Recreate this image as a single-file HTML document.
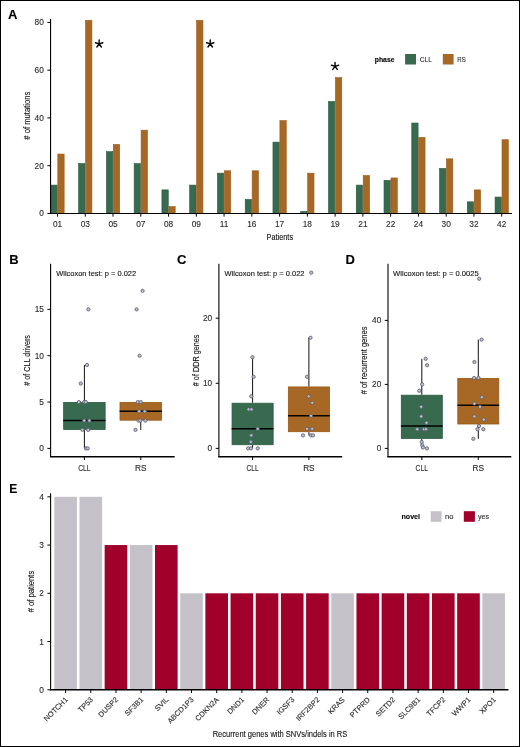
<!DOCTYPE html>
<html><head><meta charset="utf-8"><style>
html,body{margin:0;padding:0;background:#fff;}
#fig{position:relative;width:520px;height:747px;box-sizing:border-box;border:1px solid #000;overflow:hidden;background:#fff;}
svg{position:absolute;left:-1px;top:-1px;font-family:"Liberation Sans", sans-serif;will-change:transform;}
</style></head><body><div id="fig">
<svg width="520" height="747" viewBox="0 0 520 747">
<text x="8" y="18.8" font-size="13" text-anchor="start" fill="#000" stroke="#000" stroke-width="0.12" font-weight="bold">A</text>
<rect x="50.86" y="185.1" width="6.34" height="28.35" fill="#386a50" stroke="#285a40" stroke-width="0.6"/>
<rect x="57.8" y="154.06" width="6.34" height="59.39" fill="#a76826" stroke="#9c5a14" stroke-width="0.6"/>
<rect x="78.62" y="163.61" width="6.34" height="49.84" fill="#386a50" stroke="#285a40" stroke-width="0.6"/>
<rect x="85.56" y="20.36" width="6.34" height="193.09" fill="#a76826" stroke="#9c5a14" stroke-width="0.6"/>
<rect x="106.39" y="151.68" width="6.34" height="61.77" fill="#386a50" stroke="#285a40" stroke-width="0.6"/>
<rect x="113.33" y="144.51" width="6.34" height="68.94" fill="#a76826" stroke="#9c5a14" stroke-width="0.6"/>
<rect x="134.15" y="163.61" width="6.34" height="49.84" fill="#386a50" stroke="#285a40" stroke-width="0.6"/>
<rect x="141.09" y="130.19" width="6.34" height="83.26" fill="#a76826" stroke="#9c5a14" stroke-width="0.6"/>
<rect x="161.91" y="189.88" width="6.34" height="23.57" fill="#386a50" stroke="#285a40" stroke-width="0.6"/>
<rect x="168.85" y="206.59" width="6.34" height="6.86" fill="#a76826" stroke="#9c5a14" stroke-width="0.6"/>
<rect x="189.67" y="185.1" width="6.34" height="28.35" fill="#386a50" stroke="#285a40" stroke-width="0.6"/>
<rect x="196.61" y="20.36" width="6.34" height="193.09" fill="#a76826" stroke="#9c5a14" stroke-width="0.6"/>
<rect x="217.44" y="173.16" width="6.34" height="40.29" fill="#386a50" stroke="#285a40" stroke-width="0.6"/>
<rect x="224.38" y="170.78" width="6.34" height="42.67" fill="#a76826" stroke="#9c5a14" stroke-width="0.6"/>
<rect x="245.2" y="199.43" width="6.34" height="14.02" fill="#386a50" stroke="#285a40" stroke-width="0.6"/>
<rect x="252.14" y="170.78" width="6.34" height="42.67" fill="#a76826" stroke="#9c5a14" stroke-width="0.6"/>
<rect x="272.96" y="142.12" width="6.34" height="71.32" fill="#386a50" stroke="#285a40" stroke-width="0.6"/>
<rect x="279.9" y="120.64" width="6.34" height="92.81" fill="#a76826" stroke="#9c5a14" stroke-width="0.6"/>
<rect x="300.72" y="211.36" width="6.34" height="2.09" fill="#386a50" stroke="#285a40" stroke-width="0.6"/>
<rect x="307.66" y="173.16" width="6.34" height="40.29" fill="#a76826" stroke="#9c5a14" stroke-width="0.6"/>
<rect x="328.49" y="101.54" width="6.34" height="111.91" fill="#386a50" stroke="#285a40" stroke-width="0.6"/>
<rect x="335.43" y="77.66" width="6.34" height="135.79" fill="#a76826" stroke="#9c5a14" stroke-width="0.6"/>
<rect x="356.25" y="185.1" width="6.34" height="28.35" fill="#386a50" stroke="#285a40" stroke-width="0.6"/>
<rect x="363.19" y="175.55" width="6.34" height="37.9" fill="#a76826" stroke="#9c5a14" stroke-width="0.6"/>
<rect x="384.01" y="180.32" width="6.34" height="33.12" fill="#386a50" stroke="#285a40" stroke-width="0.6"/>
<rect x="390.95" y="177.94" width="6.34" height="35.51" fill="#a76826" stroke="#9c5a14" stroke-width="0.6"/>
<rect x="411.77" y="123.02" width="6.34" height="90.43" fill="#386a50" stroke="#285a40" stroke-width="0.6"/>
<rect x="418.71" y="137.35" width="6.34" height="76.1" fill="#a76826" stroke="#9c5a14" stroke-width="0.6"/>
<rect x="439.54" y="168.39" width="6.34" height="45.06" fill="#386a50" stroke="#285a40" stroke-width="0.6"/>
<rect x="446.48" y="158.84" width="6.34" height="54.61" fill="#a76826" stroke="#9c5a14" stroke-width="0.6"/>
<rect x="467.3" y="201.81" width="6.34" height="11.64" fill="#386a50" stroke="#285a40" stroke-width="0.6"/>
<rect x="474.24" y="189.88" width="6.34" height="23.57" fill="#a76826" stroke="#9c5a14" stroke-width="0.6"/>
<rect x="495.06" y="197.04" width="6.34" height="16.41" fill="#386a50" stroke="#285a40" stroke-width="0.6"/>
<rect x="502" y="139.74" width="6.34" height="73.71" fill="#a76826" stroke="#9c5a14" stroke-width="0.6"/>
<line x1="50.55" y1="19.1" x2="50.55" y2="213.95" stroke="#000" stroke-width="1.1"/>
<line x1="47.35" y1="213.45" x2="50.55" y2="213.45" stroke="#000" stroke-width="0.99"/>
<text x="43.85" y="216.4" font-size="8.3" text-anchor="end" fill="#2a2a2a" stroke="#2a2a2a" stroke-width="0.12">0</text>
<line x1="47.35" y1="165.7" x2="50.55" y2="165.7" stroke="#000" stroke-width="0.99"/>
<text x="43.85" y="168.65" font-size="8.3" text-anchor="end" fill="#2a2a2a" stroke="#2a2a2a" stroke-width="0.12">20</text>
<line x1="47.35" y1="117.95" x2="50.55" y2="117.95" stroke="#000" stroke-width="0.99"/>
<text x="43.85" y="120.9" font-size="8.3" text-anchor="end" fill="#2a2a2a" stroke="#2a2a2a" stroke-width="0.12">40</text>
<line x1="47.35" y1="70.2" x2="50.55" y2="70.2" stroke="#000" stroke-width="0.99"/>
<text x="43.85" y="73.15" font-size="8.3" text-anchor="end" fill="#2a2a2a" stroke="#2a2a2a" stroke-width="0.12">60</text>
<line x1="47.35" y1="22.45" x2="50.55" y2="22.45" stroke="#000" stroke-width="0.99"/>
<text x="43.85" y="25.4" font-size="8.3" text-anchor="end" fill="#2a2a2a" stroke="#2a2a2a" stroke-width="0.12">80</text>
<line x1="49.95" y1="213.45" x2="512" y2="213.45" stroke="#000" stroke-width="1.1"/>
<line x1="57.5" y1="213.45" x2="57.5" y2="216.65" stroke="#000" stroke-width="0.99"/>
<text x="57.5" y="226.7" font-size="8.3" text-anchor="middle" fill="#2a2a2a" stroke="#2a2a2a" stroke-width="0.12">01</text>
<line x1="85.26" y1="213.45" x2="85.26" y2="216.65" stroke="#000" stroke-width="0.99"/>
<text x="85.26" y="226.7" font-size="8.3" text-anchor="middle" fill="#2a2a2a" stroke="#2a2a2a" stroke-width="0.12">03</text>
<line x1="113.03" y1="213.45" x2="113.03" y2="216.65" stroke="#000" stroke-width="0.99"/>
<text x="113.03" y="226.7" font-size="8.3" text-anchor="middle" fill="#2a2a2a" stroke="#2a2a2a" stroke-width="0.12">05</text>
<line x1="140.79" y1="213.45" x2="140.79" y2="216.65" stroke="#000" stroke-width="0.99"/>
<text x="140.79" y="226.7" font-size="8.3" text-anchor="middle" fill="#2a2a2a" stroke="#2a2a2a" stroke-width="0.12">07</text>
<line x1="168.55" y1="213.45" x2="168.55" y2="216.65" stroke="#000" stroke-width="0.99"/>
<text x="168.55" y="226.7" font-size="8.3" text-anchor="middle" fill="#2a2a2a" stroke="#2a2a2a" stroke-width="0.12">08</text>
<line x1="196.31" y1="213.45" x2="196.31" y2="216.65" stroke="#000" stroke-width="0.99"/>
<text x="196.31" y="226.7" font-size="8.3" text-anchor="middle" fill="#2a2a2a" stroke="#2a2a2a" stroke-width="0.12">09</text>
<line x1="224.07" y1="213.45" x2="224.07" y2="216.65" stroke="#000" stroke-width="0.99"/>
<text x="224.07" y="226.7" font-size="8.3" text-anchor="middle" fill="#2a2a2a" stroke="#2a2a2a" stroke-width="0.12">11</text>
<line x1="251.84" y1="213.45" x2="251.84" y2="216.65" stroke="#000" stroke-width="0.99"/>
<text x="251.84" y="226.7" font-size="8.3" text-anchor="middle" fill="#2a2a2a" stroke="#2a2a2a" stroke-width="0.12">16</text>
<line x1="279.6" y1="213.45" x2="279.6" y2="216.65" stroke="#000" stroke-width="0.99"/>
<text x="279.6" y="226.7" font-size="8.3" text-anchor="middle" fill="#2a2a2a" stroke="#2a2a2a" stroke-width="0.12">17</text>
<line x1="307.36" y1="213.45" x2="307.36" y2="216.65" stroke="#000" stroke-width="0.99"/>
<text x="307.36" y="226.7" font-size="8.3" text-anchor="middle" fill="#2a2a2a" stroke="#2a2a2a" stroke-width="0.12">18</text>
<line x1="335.12" y1="213.45" x2="335.12" y2="216.65" stroke="#000" stroke-width="0.99"/>
<text x="335.12" y="226.7" font-size="8.3" text-anchor="middle" fill="#2a2a2a" stroke="#2a2a2a" stroke-width="0.12">19</text>
<line x1="362.89" y1="213.45" x2="362.89" y2="216.65" stroke="#000" stroke-width="0.99"/>
<text x="362.89" y="226.7" font-size="8.3" text-anchor="middle" fill="#2a2a2a" stroke="#2a2a2a" stroke-width="0.12">21</text>
<line x1="390.65" y1="213.45" x2="390.65" y2="216.65" stroke="#000" stroke-width="0.99"/>
<text x="390.65" y="226.7" font-size="8.3" text-anchor="middle" fill="#2a2a2a" stroke="#2a2a2a" stroke-width="0.12">22</text>
<line x1="418.41" y1="213.45" x2="418.41" y2="216.65" stroke="#000" stroke-width="0.99"/>
<text x="418.41" y="226.7" font-size="8.3" text-anchor="middle" fill="#2a2a2a" stroke="#2a2a2a" stroke-width="0.12">24</text>
<line x1="446.18" y1="213.45" x2="446.18" y2="216.65" stroke="#000" stroke-width="0.99"/>
<text x="446.18" y="226.7" font-size="8.3" text-anchor="middle" fill="#2a2a2a" stroke="#2a2a2a" stroke-width="0.12">30</text>
<line x1="473.94" y1="213.45" x2="473.94" y2="216.65" stroke="#000" stroke-width="0.99"/>
<text x="473.94" y="226.7" font-size="8.3" text-anchor="middle" fill="#2a2a2a" stroke="#2a2a2a" stroke-width="0.12">32</text>
<line x1="501.7" y1="213.45" x2="501.7" y2="216.65" stroke="#000" stroke-width="0.99"/>
<text x="501.7" y="226.7" font-size="8.3" text-anchor="middle" fill="#2a2a2a" stroke="#2a2a2a" stroke-width="0.12">42</text>
<text x="279.8" y="239.7" font-size="9.8" text-anchor="middle" fill="#111" stroke="#111" stroke-width="0.12" textLength="26.6" lengthAdjust="spacingAndGlyphs">Patients</text>
<text transform="translate(30.3,115.7) rotate(-90)" font-size="9.8" text-anchor="middle" fill="#111" stroke="#111" stroke-width="0.12" textLength="47.9" lengthAdjust="spacingAndGlyphs"># of mutations</text>
<path d="M99.15,43.9L99.15,40.05M99.15,43.9L102.81,42.71M99.15,43.9L101.41,47.01M99.15,43.9L96.89,47.01M99.15,43.9L95.49,42.71" stroke="#000" stroke-width="1.4" stroke-linecap="round" fill="none"/>
<path d="M210.2,43.9L210.2,40.05M210.2,43.9L213.86,42.71M210.2,43.9L212.46,47.01M210.2,43.9L207.94,47.01M210.2,43.9L206.54,42.71" stroke="#000" stroke-width="1.4" stroke-linecap="round" fill="none"/>
<path d="M335.05,66.3L335.05,62.45M335.05,66.3L338.71,65.11M335.05,66.3L337.31,69.41M335.05,66.3L332.79,69.41M335.05,66.3L331.39,65.11" stroke="#000" stroke-width="1.4" stroke-linecap="round" fill="none"/>
<text x="374.8" y="61.5" font-size="7" text-anchor="start" fill="#000" stroke="#000" stroke-width="0.12" font-weight="bold" textLength="19.7" lengthAdjust="spacingAndGlyphs">phase</text>
<rect x="405.1" y="54" width="10.9" height="10.5" fill="#386a50"/>
<text x="419.8" y="61.8" font-size="8" text-anchor="start" fill="#2a2a2a" stroke="#2a2a2a" stroke-width="0.12" textLength="12.1" lengthAdjust="spacingAndGlyphs">CLL</text>
<rect x="442.8" y="54" width="10.8" height="10.5" fill="#a76826"/>
<text x="457.3" y="61.8" font-size="8" text-anchor="start" fill="#2a2a2a" stroke="#2a2a2a" stroke-width="0.12" textLength="8.5" lengthAdjust="spacingAndGlyphs">RS</text>
<text x="9.2" y="264" font-size="13" text-anchor="start" fill="#000" stroke="#000" stroke-width="0.12" font-weight="bold">B</text>
<line x1="84.4" y1="364.97" x2="84.4" y2="402.05" stroke="#111" stroke-width="1"/>
<line x1="84.4" y1="429.86" x2="84.4" y2="448.4" stroke="#111" stroke-width="1"/>
<rect x="63.65" y="402.45" width="41.5" height="27.01" fill="#386a50" stroke="#2a5a40" stroke-width="0.8"/>
<line x1="63.25" y1="420.59" x2="105.55" y2="420.59" stroke="#000" stroke-width="1.5"/>
<line x1="140.75" y1="402.05" x2="140.75" y2="402.05" stroke="#111" stroke-width="1"/>
<line x1="140.75" y1="420.59" x2="140.75" y2="429.86" stroke="#111" stroke-width="1"/>
<rect x="120" y="402.45" width="41.5" height="17.74" fill="#a76826" stroke="#9a5810" stroke-width="0.8"/>
<line x1="119.6" y1="411.32" x2="161.9" y2="411.32" stroke="#000" stroke-width="1.5"/>
<circle cx="88.4" cy="309.35" r="1.65" fill="#bcc0cc" stroke="#585c70" stroke-width="0.8"/>
<circle cx="87" cy="364.97" r="1.65" fill="#bcc0cc" stroke="#585c70" stroke-width="0.8"/>
<circle cx="80.8" cy="383.51" r="1.65" fill="#bcc0cc" stroke="#585c70" stroke-width="0.8"/>
<circle cx="78.9" cy="402.05" r="1.65" fill="#bcc0cc" stroke="#585c70" stroke-width="0.8"/>
<circle cx="84.2" cy="402.05" r="1.65" fill="#bcc0cc" stroke="#585c70" stroke-width="0.8"/>
<circle cx="85.8" cy="402.05" r="1.65" fill="#bcc0cc" stroke="#585c70" stroke-width="0.8"/>
<circle cx="84.2" cy="420.59" r="1.65" fill="#bcc0cc" stroke="#585c70" stroke-width="0.8"/>
<circle cx="89.3" cy="420.59" r="1.65" fill="#bcc0cc" stroke="#585c70" stroke-width="0.8"/>
<circle cx="82.4" cy="429.86" r="1.65" fill="#bcc0cc" stroke="#585c70" stroke-width="0.8"/>
<circle cx="88.2" cy="429.86" r="1.65" fill="#bcc0cc" stroke="#585c70" stroke-width="0.8"/>
<circle cx="86" cy="448.4" r="1.65" fill="#bcc0cc" stroke="#585c70" stroke-width="0.8"/>
<circle cx="87.7" cy="448.4" r="1.65" fill="#bcc0cc" stroke="#585c70" stroke-width="0.8"/>
<circle cx="142.6" cy="290.81" r="1.65" fill="#bcc0cc" stroke="#585c70" stroke-width="0.8"/>
<circle cx="136.6" cy="309.35" r="1.65" fill="#bcc0cc" stroke="#585c70" stroke-width="0.8"/>
<circle cx="139.6" cy="355.7" r="1.65" fill="#bcc0cc" stroke="#585c70" stroke-width="0.8"/>
<circle cx="137.8" cy="402.05" r="1.65" fill="#bcc0cc" stroke="#585c70" stroke-width="0.8"/>
<circle cx="140.8" cy="402.05" r="1.65" fill="#bcc0cc" stroke="#585c70" stroke-width="0.8"/>
<circle cx="139.2" cy="411.32" r="1.65" fill="#bcc0cc" stroke="#585c70" stroke-width="0.8"/>
<circle cx="144.7" cy="411.32" r="1.65" fill="#bcc0cc" stroke="#585c70" stroke-width="0.8"/>
<circle cx="138.5" cy="420.59" r="1.65" fill="#bcc0cc" stroke="#585c70" stroke-width="0.8"/>
<circle cx="140.3" cy="420.59" r="1.65" fill="#bcc0cc" stroke="#585c70" stroke-width="0.8"/>
<circle cx="145.4" cy="420.59" r="1.65" fill="#bcc0cc" stroke="#585c70" stroke-width="0.8"/>
<circle cx="135.5" cy="429.86" r="1.65" fill="#bcc0cc" stroke="#585c70" stroke-width="0.8"/>
<line x1="50.6" y1="263.7" x2="50.6" y2="457" stroke="#000" stroke-width="1.1"/>
<line x1="47.4" y1="448.4" x2="50.6" y2="448.4" stroke="#000" stroke-width="0.99"/>
<text x="43.9" y="451.35" font-size="8.3" text-anchor="end" fill="#2a2a2a" stroke="#2a2a2a" stroke-width="0.12">0</text>
<line x1="47.4" y1="402.05" x2="50.6" y2="402.05" stroke="#000" stroke-width="0.99"/>
<text x="43.9" y="405" font-size="8.3" text-anchor="end" fill="#2a2a2a" stroke="#2a2a2a" stroke-width="0.12">5</text>
<line x1="47.4" y1="355.7" x2="50.6" y2="355.7" stroke="#000" stroke-width="0.99"/>
<text x="43.9" y="358.65" font-size="8.3" text-anchor="end" fill="#2a2a2a" stroke="#2a2a2a" stroke-width="0.12">10</text>
<line x1="47.4" y1="309.35" x2="50.6" y2="309.35" stroke="#000" stroke-width="0.99"/>
<text x="43.9" y="312.3" font-size="8.3" text-anchor="end" fill="#2a2a2a" stroke="#2a2a2a" stroke-width="0.12">15</text>
<line x1="50" y1="456.8" x2="174.7" y2="456.8" stroke="#000" stroke-width="1.4"/>
<line x1="84.4" y1="456.8" x2="84.4" y2="460" stroke="#000" stroke-width="0.99"/>
<text x="84.4" y="470.6" font-size="8.3" text-anchor="middle" fill="#2a2a2a" stroke="#2a2a2a" stroke-width="0.12" textLength="12.4" lengthAdjust="spacingAndGlyphs">CLL</text>
<line x1="140.75" y1="456.8" x2="140.75" y2="460" stroke="#000" stroke-width="0.99"/>
<text x="140.75" y="470.6" font-size="8.3" text-anchor="middle" fill="#2a2a2a" stroke="#2a2a2a" stroke-width="0.12">RS</text>
<text transform="translate(30,360.4) rotate(-90)" font-size="9.8" text-anchor="middle" fill="#111" stroke="#111" stroke-width="0.12" textLength="50.6" lengthAdjust="spacingAndGlyphs"># of CLL drivers</text>
<text x="56.2" y="275.8" font-size="7.8" text-anchor="start" fill="#111" stroke="#111" stroke-width="0.12" textLength="80" lengthAdjust="spacingAndGlyphs">Wilcoxon test: p = 0.022</text>
<text x="177" y="264" font-size="13" text-anchor="start" fill="#000" stroke="#000" stroke-width="0.12" font-weight="bold">C</text>
<line x1="252.6" y1="357.25" x2="252.6" y2="402.81" stroke="#111" stroke-width="1"/>
<line x1="252.6" y1="445.12" x2="252.6" y2="448.37" stroke="#111" stroke-width="1"/>
<rect x="232.05" y="403.21" width="41.1" height="41.51" fill="#386a50" stroke="#2a5a40" stroke-width="0.8"/>
<line x1="231.65" y1="428.84" x2="273.55" y2="428.84" stroke="#000" stroke-width="1.5"/>
<line x1="308.9" y1="337.73" x2="308.9" y2="386.54" stroke="#111" stroke-width="1"/>
<line x1="308.9" y1="432.1" x2="308.9" y2="435.35" stroke="#111" stroke-width="1"/>
<rect x="288.35" y="386.94" width="41.1" height="44.76" fill="#a76826" stroke="#9a5810" stroke-width="0.8"/>
<line x1="287.95" y1="415.83" x2="329.85" y2="415.83" stroke="#000" stroke-width="1.5"/>
<circle cx="252.5" cy="357.25" r="1.65" fill="#bcc0cc" stroke="#585c70" stroke-width="0.8"/>
<circle cx="253.6" cy="376.78" r="1.65" fill="#bcc0cc" stroke="#585c70" stroke-width="0.8"/>
<circle cx="251.3" cy="396.3" r="1.65" fill="#bcc0cc" stroke="#585c70" stroke-width="0.8"/>
<circle cx="248.6" cy="409.32" r="1.65" fill="#bcc0cc" stroke="#585c70" stroke-width="0.8"/>
<circle cx="251.5" cy="409.32" r="1.65" fill="#bcc0cc" stroke="#585c70" stroke-width="0.8"/>
<circle cx="257.7" cy="428.84" r="1.65" fill="#bcc0cc" stroke="#585c70" stroke-width="0.8"/>
<circle cx="251.3" cy="435.35" r="1.65" fill="#bcc0cc" stroke="#585c70" stroke-width="0.8"/>
<circle cx="250.8" cy="441.86" r="1.65" fill="#bcc0cc" stroke="#585c70" stroke-width="0.8"/>
<circle cx="248.2" cy="448.37" r="1.65" fill="#bcc0cc" stroke="#585c70" stroke-width="0.8"/>
<circle cx="251" cy="448.37" r="1.65" fill="#bcc0cc" stroke="#585c70" stroke-width="0.8"/>
<circle cx="257.7" cy="448.37" r="1.65" fill="#bcc0cc" stroke="#585c70" stroke-width="0.8"/>
<circle cx="311.25" cy="272.64" r="1.65" fill="#bcc0cc" stroke="#585c70" stroke-width="0.8"/>
<circle cx="310.5" cy="337.73" r="1.65" fill="#bcc0cc" stroke="#585c70" stroke-width="0.8"/>
<circle cx="307" cy="376.78" r="1.65" fill="#bcc0cc" stroke="#585c70" stroke-width="0.8"/>
<circle cx="308.7" cy="396.3" r="1.65" fill="#bcc0cc" stroke="#585c70" stroke-width="0.8"/>
<circle cx="312.2" cy="402.81" r="1.65" fill="#bcc0cc" stroke="#585c70" stroke-width="0.8"/>
<circle cx="311" cy="415.83" r="1.65" fill="#bcc0cc" stroke="#585c70" stroke-width="0.8"/>
<circle cx="307" cy="428.84" r="1.65" fill="#bcc0cc" stroke="#585c70" stroke-width="0.8"/>
<circle cx="312.2" cy="428.84" r="1.65" fill="#bcc0cc" stroke="#585c70" stroke-width="0.8"/>
<circle cx="303" cy="435.35" r="1.65" fill="#bcc0cc" stroke="#585c70" stroke-width="0.8"/>
<circle cx="311" cy="435.35" r="1.65" fill="#bcc0cc" stroke="#585c70" stroke-width="0.8"/>
<circle cx="313" cy="435.35" r="1.65" fill="#bcc0cc" stroke="#585c70" stroke-width="0.8"/>
<line x1="218.9" y1="263.7" x2="218.9" y2="457" stroke="#000" stroke-width="1.1"/>
<line x1="215.7" y1="448.37" x2="218.9" y2="448.37" stroke="#000" stroke-width="0.99"/>
<text x="212.2" y="451.32" font-size="8.3" text-anchor="end" fill="#2a2a2a" stroke="#2a2a2a" stroke-width="0.12">0</text>
<line x1="215.7" y1="383.29" x2="218.9" y2="383.29" stroke="#000" stroke-width="0.99"/>
<text x="212.2" y="386.24" font-size="8.3" text-anchor="end" fill="#2a2a2a" stroke="#2a2a2a" stroke-width="0.12">10</text>
<line x1="215.7" y1="318.2" x2="218.9" y2="318.2" stroke="#000" stroke-width="0.99"/>
<text x="212.2" y="321.15" font-size="8.3" text-anchor="end" fill="#2a2a2a" stroke="#2a2a2a" stroke-width="0.12">20</text>
<line x1="218.3" y1="456.8" x2="342.2" y2="456.8" stroke="#000" stroke-width="1.4"/>
<line x1="252.6" y1="456.8" x2="252.6" y2="460" stroke="#000" stroke-width="0.99"/>
<text x="252.6" y="470.6" font-size="8.3" text-anchor="middle" fill="#2a2a2a" stroke="#2a2a2a" stroke-width="0.12" textLength="12.4" lengthAdjust="spacingAndGlyphs">CLL</text>
<line x1="308.9" y1="456.8" x2="308.9" y2="460" stroke="#000" stroke-width="0.99"/>
<text x="308.9" y="470.6" font-size="8.3" text-anchor="middle" fill="#2a2a2a" stroke="#2a2a2a" stroke-width="0.12">RS</text>
<text transform="translate(198.5,360.4) rotate(-90)" font-size="9.8" text-anchor="middle" fill="#111" stroke="#111" stroke-width="0.12" textLength="51.6" lengthAdjust="spacingAndGlyphs"># of DDR genes</text>
<text x="224.5" y="275.8" font-size="7.8" text-anchor="start" fill="#111" stroke="#111" stroke-width="0.12" textLength="80" lengthAdjust="spacingAndGlyphs">Wilcoxon test: p = 0.022</text>
<text x="345.6" y="264" font-size="13" text-anchor="start" fill="#000" stroke="#000" stroke-width="0.12" font-weight="bold">D</text>
<line x1="421.8" y1="358.8" x2="421.8" y2="394.8" stroke="#111" stroke-width="1"/>
<line x1="421.8" y1="438.8" x2="421.8" y2="448.4" stroke="#111" stroke-width="1"/>
<rect x="401.3" y="395.2" width="41" height="43.2" fill="#386a50" stroke="#2a5a40" stroke-width="0.8"/>
<line x1="400.9" y1="426" x2="442.7" y2="426" stroke="#000" stroke-width="1.5"/>
<line x1="478.3" y1="339.6" x2="478.3" y2="378" stroke="#111" stroke-width="1"/>
<line x1="478.3" y1="424.4" x2="478.3" y2="438.8" stroke="#111" stroke-width="1"/>
<rect x="457.8" y="378.4" width="41" height="45.6" fill="#a76826" stroke="#9a5810" stroke-width="0.8"/>
<line x1="457.4" y1="405.2" x2="499.2" y2="405.2" stroke="#000" stroke-width="1.5"/>
<circle cx="425.7" cy="358.8" r="1.65" fill="#bcc0cc" stroke="#585c70" stroke-width="0.8"/>
<circle cx="427.1" cy="365.2" r="1.65" fill="#bcc0cc" stroke="#585c70" stroke-width="0.8"/>
<circle cx="422.2" cy="384.4" r="1.65" fill="#bcc0cc" stroke="#585c70" stroke-width="0.8"/>
<circle cx="419.3" cy="390.8" r="1.65" fill="#bcc0cc" stroke="#585c70" stroke-width="0.8"/>
<circle cx="421.2" cy="406.8" r="1.65" fill="#bcc0cc" stroke="#585c70" stroke-width="0.8"/>
<circle cx="421.2" cy="416.4" r="1.65" fill="#bcc0cc" stroke="#585c70" stroke-width="0.8"/>
<circle cx="426.5" cy="422.8" r="1.65" fill="#bcc0cc" stroke="#585c70" stroke-width="0.8"/>
<circle cx="417.3" cy="429.2" r="1.65" fill="#bcc0cc" stroke="#585c70" stroke-width="0.8"/>
<circle cx="424" cy="429.2" r="1.65" fill="#bcc0cc" stroke="#585c70" stroke-width="0.8"/>
<circle cx="426" cy="429.2" r="1.65" fill="#bcc0cc" stroke="#585c70" stroke-width="0.8"/>
<circle cx="421.7" cy="442" r="1.65" fill="#bcc0cc" stroke="#585c70" stroke-width="0.8"/>
<circle cx="422.3" cy="445.2" r="1.65" fill="#bcc0cc" stroke="#585c70" stroke-width="0.8"/>
<circle cx="423" cy="447.44" r="1.65" fill="#bcc0cc" stroke="#585c70" stroke-width="0.8"/>
<circle cx="426.9" cy="448.4" r="1.65" fill="#bcc0cc" stroke="#585c70" stroke-width="0.8"/>
<circle cx="479.2" cy="278.8" r="1.65" fill="#bcc0cc" stroke="#585c70" stroke-width="0.8"/>
<circle cx="481.6" cy="339.6" r="1.65" fill="#bcc0cc" stroke="#585c70" stroke-width="0.8"/>
<circle cx="474.4" cy="362" r="1.65" fill="#bcc0cc" stroke="#585c70" stroke-width="0.8"/>
<circle cx="474.1" cy="378" r="1.65" fill="#bcc0cc" stroke="#585c70" stroke-width="0.8"/>
<circle cx="478.5" cy="378" r="1.65" fill="#bcc0cc" stroke="#585c70" stroke-width="0.8"/>
<circle cx="481.9" cy="397.2" r="1.65" fill="#bcc0cc" stroke="#585c70" stroke-width="0.8"/>
<circle cx="474.4" cy="403.6" r="1.65" fill="#bcc0cc" stroke="#585c70" stroke-width="0.8"/>
<circle cx="480" cy="406.8" r="1.65" fill="#bcc0cc" stroke="#585c70" stroke-width="0.8"/>
<circle cx="474.4" cy="416.4" r="1.65" fill="#bcc0cc" stroke="#585c70" stroke-width="0.8"/>
<circle cx="483.7" cy="419.6" r="1.65" fill="#bcc0cc" stroke="#585c70" stroke-width="0.8"/>
<circle cx="479" cy="426" r="1.65" fill="#bcc0cc" stroke="#585c70" stroke-width="0.8"/>
<circle cx="477.5" cy="429.2" r="1.65" fill="#bcc0cc" stroke="#585c70" stroke-width="0.8"/>
<circle cx="483.3" cy="429.2" r="1.65" fill="#bcc0cc" stroke="#585c70" stroke-width="0.8"/>
<circle cx="473.3" cy="438.8" r="1.65" fill="#bcc0cc" stroke="#585c70" stroke-width="0.8"/>
<line x1="388" y1="263.7" x2="388" y2="457" stroke="#000" stroke-width="1.1"/>
<line x1="384.8" y1="448.4" x2="388" y2="448.4" stroke="#000" stroke-width="0.99"/>
<text x="381.3" y="451.35" font-size="8.3" text-anchor="end" fill="#2a2a2a" stroke="#2a2a2a" stroke-width="0.12">0</text>
<line x1="384.8" y1="384.4" x2="388" y2="384.4" stroke="#000" stroke-width="0.99"/>
<text x="381.3" y="387.35" font-size="8.3" text-anchor="end" fill="#2a2a2a" stroke="#2a2a2a" stroke-width="0.12">20</text>
<line x1="384.8" y1="320.4" x2="388" y2="320.4" stroke="#000" stroke-width="0.99"/>
<text x="381.3" y="323.35" font-size="8.3" text-anchor="end" fill="#2a2a2a" stroke="#2a2a2a" stroke-width="0.12">40</text>
<line x1="387.4" y1="456.8" x2="511.3" y2="456.8" stroke="#000" stroke-width="1.4"/>
<line x1="421.8" y1="456.8" x2="421.8" y2="460" stroke="#000" stroke-width="0.99"/>
<text x="421.8" y="470.6" font-size="8.3" text-anchor="middle" fill="#2a2a2a" stroke="#2a2a2a" stroke-width="0.12" textLength="12.4" lengthAdjust="spacingAndGlyphs">CLL</text>
<line x1="478.3" y1="456.8" x2="478.3" y2="460" stroke="#000" stroke-width="0.99"/>
<text x="478.3" y="470.6" font-size="8.3" text-anchor="middle" fill="#2a2a2a" stroke="#2a2a2a" stroke-width="0.12">RS</text>
<text transform="translate(366.8,360.4) rotate(-90)" font-size="9.8" text-anchor="middle" fill="#111" stroke="#111" stroke-width="0.12" textLength="67.9" lengthAdjust="spacingAndGlyphs"># of recurrent genes</text>
<text x="393.1" y="275.8" font-size="7.8" text-anchor="start" fill="#111" stroke="#111" stroke-width="0.12" textLength="85.6" lengthAdjust="spacingAndGlyphs">Wilcoxon test: p = 0.0025</text>
<text x="9.3" y="493.3" font-size="12" text-anchor="start" fill="#000" stroke="#000" stroke-width="0.12" font-weight="bold">E</text>
<rect x="54.3" y="496.8" width="22.6" height="193" fill="#c4c2c8"/>
<rect x="79.48" y="496.8" width="22.6" height="193" fill="#c4c2c8"/>
<rect x="104.66" y="545.05" width="22.6" height="144.75" fill="#a0002a"/>
<rect x="129.84" y="545.05" width="22.6" height="144.75" fill="#c4c2c8"/>
<rect x="155.02" y="545.05" width="22.6" height="144.75" fill="#a0002a"/>
<rect x="180.2" y="593.3" width="22.6" height="96.5" fill="#c4c2c8"/>
<rect x="205.38" y="593.3" width="22.6" height="96.5" fill="#a0002a"/>
<rect x="230.56" y="593.3" width="22.6" height="96.5" fill="#a0002a"/>
<rect x="255.74" y="593.3" width="22.6" height="96.5" fill="#a0002a"/>
<rect x="280.92" y="593.3" width="22.6" height="96.5" fill="#a0002a"/>
<rect x="306.1" y="593.3" width="22.6" height="96.5" fill="#a0002a"/>
<rect x="331.28" y="593.3" width="22.6" height="96.5" fill="#c4c2c8"/>
<rect x="356.46" y="593.3" width="22.6" height="96.5" fill="#a0002a"/>
<rect x="381.64" y="593.3" width="22.6" height="96.5" fill="#a0002a"/>
<rect x="406.82" y="593.3" width="22.6" height="96.5" fill="#a0002a"/>
<rect x="432" y="593.3" width="22.6" height="96.5" fill="#a0002a"/>
<rect x="457.18" y="593.3" width="22.6" height="96.5" fill="#a0002a"/>
<rect x="482.36" y="593.3" width="22.6" height="96.5" fill="#c4c2c8"/>
<line x1="50.6" y1="493.2" x2="50.6" y2="690.3" stroke="#000" stroke-width="1.1"/>
<line x1="47.4" y1="689.8" x2="50.6" y2="689.8" stroke="#000" stroke-width="0.99"/>
<text x="43.9" y="692.75" font-size="8.3" text-anchor="end" fill="#2a2a2a" stroke="#2a2a2a" stroke-width="0.12">0</text>
<line x1="47.4" y1="641.55" x2="50.6" y2="641.55" stroke="#000" stroke-width="0.99"/>
<text x="43.9" y="644.5" font-size="8.3" text-anchor="end" fill="#2a2a2a" stroke="#2a2a2a" stroke-width="0.12">1</text>
<line x1="47.4" y1="593.3" x2="50.6" y2="593.3" stroke="#000" stroke-width="0.99"/>
<text x="43.9" y="596.25" font-size="8.3" text-anchor="end" fill="#2a2a2a" stroke="#2a2a2a" stroke-width="0.12">2</text>
<line x1="47.4" y1="545.05" x2="50.6" y2="545.05" stroke="#000" stroke-width="0.99"/>
<text x="43.9" y="548" font-size="8.3" text-anchor="end" fill="#2a2a2a" stroke="#2a2a2a" stroke-width="0.12">3</text>
<line x1="47.4" y1="496.8" x2="50.6" y2="496.8" stroke="#000" stroke-width="0.99"/>
<text x="43.9" y="499.75" font-size="8.3" text-anchor="end" fill="#2a2a2a" stroke="#2a2a2a" stroke-width="0.12">4</text>
<line x1="50" y1="689.8" x2="508.5" y2="689.8" stroke="#000" stroke-width="1.4"/>
<line x1="65.6" y1="689.8" x2="65.6" y2="693" stroke="#000" stroke-width="0.99"/>
<text transform="translate(68.3,700.2) rotate(-45)" font-size="7.4" text-anchor="end" fill="#2a2a2a" stroke="#2a2a2a" stroke-width="0.12">NOTCH1</text>
<line x1="90.78" y1="689.8" x2="90.78" y2="693" stroke="#000" stroke-width="0.99"/>
<text transform="translate(93.48,700.2) rotate(-45)" font-size="7.4" text-anchor="end" fill="#2a2a2a" stroke="#2a2a2a" stroke-width="0.12">TP53</text>
<line x1="115.96" y1="689.8" x2="115.96" y2="693" stroke="#000" stroke-width="0.99"/>
<text transform="translate(118.66,700.2) rotate(-45)" font-size="7.4" text-anchor="end" fill="#2a2a2a" stroke="#2a2a2a" stroke-width="0.12">DUSP2</text>
<line x1="141.14" y1="689.8" x2="141.14" y2="693" stroke="#000" stroke-width="0.99"/>
<text transform="translate(143.84,700.2) rotate(-45)" font-size="7.4" text-anchor="end" fill="#2a2a2a" stroke="#2a2a2a" stroke-width="0.12">SF3B1</text>
<line x1="166.32" y1="689.8" x2="166.32" y2="693" stroke="#000" stroke-width="0.99"/>
<text transform="translate(169.02,700.2) rotate(-45)" font-size="7.4" text-anchor="end" fill="#2a2a2a" stroke="#2a2a2a" stroke-width="0.12">SVIL</text>
<line x1="191.5" y1="689.8" x2="191.5" y2="693" stroke="#000" stroke-width="0.99"/>
<text transform="translate(194.2,700.2) rotate(-45)" font-size="7.4" text-anchor="end" fill="#2a2a2a" stroke="#2a2a2a" stroke-width="0.12">ABCD1P3</text>
<line x1="216.68" y1="689.8" x2="216.68" y2="693" stroke="#000" stroke-width="0.99"/>
<text transform="translate(219.38,700.2) rotate(-45)" font-size="7.4" text-anchor="end" fill="#2a2a2a" stroke="#2a2a2a" stroke-width="0.12">CDKN2A</text>
<line x1="241.86" y1="689.8" x2="241.86" y2="693" stroke="#000" stroke-width="0.99"/>
<text transform="translate(244.56,700.2) rotate(-45)" font-size="7.4" text-anchor="end" fill="#2a2a2a" stroke="#2a2a2a" stroke-width="0.12">DND1</text>
<line x1="267.04" y1="689.8" x2="267.04" y2="693" stroke="#000" stroke-width="0.99"/>
<text transform="translate(269.74,700.2) rotate(-45)" font-size="7.4" text-anchor="end" fill="#2a2a2a" stroke="#2a2a2a" stroke-width="0.12">DNER</text>
<line x1="292.22" y1="689.8" x2="292.22" y2="693" stroke="#000" stroke-width="0.99"/>
<text transform="translate(294.92,700.2) rotate(-45)" font-size="7.4" text-anchor="end" fill="#2a2a2a" stroke="#2a2a2a" stroke-width="0.12">IGSF3</text>
<line x1="317.4" y1="689.8" x2="317.4" y2="693" stroke="#000" stroke-width="0.99"/>
<text transform="translate(320.1,700.2) rotate(-45)" font-size="7.4" text-anchor="end" fill="#2a2a2a" stroke="#2a2a2a" stroke-width="0.12">IRF2BP2</text>
<line x1="342.58" y1="689.8" x2="342.58" y2="693" stroke="#000" stroke-width="0.99"/>
<text transform="translate(345.28,700.2) rotate(-45)" font-size="7.4" text-anchor="end" fill="#2a2a2a" stroke="#2a2a2a" stroke-width="0.12">KRAS</text>
<line x1="367.76" y1="689.8" x2="367.76" y2="693" stroke="#000" stroke-width="0.99"/>
<text transform="translate(370.46,700.2) rotate(-45)" font-size="7.4" text-anchor="end" fill="#2a2a2a" stroke="#2a2a2a" stroke-width="0.12">PTPRD</text>
<line x1="392.94" y1="689.8" x2="392.94" y2="693" stroke="#000" stroke-width="0.99"/>
<text transform="translate(395.64,700.2) rotate(-45)" font-size="7.4" text-anchor="end" fill="#2a2a2a" stroke="#2a2a2a" stroke-width="0.12">SETD2</text>
<line x1="418.12" y1="689.8" x2="418.12" y2="693" stroke="#000" stroke-width="0.99"/>
<text transform="translate(420.82,700.2) rotate(-45)" font-size="7.4" text-anchor="end" fill="#2a2a2a" stroke="#2a2a2a" stroke-width="0.12">SLC9B1</text>
<line x1="443.3" y1="689.8" x2="443.3" y2="693" stroke="#000" stroke-width="0.99"/>
<text transform="translate(446,700.2) rotate(-45)" font-size="7.4" text-anchor="end" fill="#2a2a2a" stroke="#2a2a2a" stroke-width="0.12">TFCP2</text>
<line x1="468.48" y1="689.8" x2="468.48" y2="693" stroke="#000" stroke-width="0.99"/>
<text transform="translate(471.18,700.2) rotate(-45)" font-size="7.4" text-anchor="end" fill="#2a2a2a" stroke="#2a2a2a" stroke-width="0.12">WWP1</text>
<line x1="493.66" y1="689.8" x2="493.66" y2="693" stroke="#000" stroke-width="0.99"/>
<text transform="translate(496.36,700.2) rotate(-45)" font-size="7.4" text-anchor="end" fill="#2a2a2a" stroke="#2a2a2a" stroke-width="0.12">XPO1</text>
<text x="280" y="737.3" font-size="9.8" text-anchor="middle" fill="#111" stroke="#111" stroke-width="0.12" textLength="134.6" lengthAdjust="spacingAndGlyphs">Recurrent genes with SNVs/indels in RS</text>
<text transform="translate(33.5,591.5) rotate(-90)" font-size="9.8" text-anchor="middle" fill="#111" stroke="#111" stroke-width="0.12" textLength="41.5" lengthAdjust="spacingAndGlyphs"># of patients</text>
<text x="401.4" y="518.9" font-size="7.5" text-anchor="start" fill="#000" stroke="#000" stroke-width="0.12" font-weight="bold" textLength="18.7" lengthAdjust="spacingAndGlyphs">novel</text>
<rect x="430.7" y="511.2" width="10.8" height="10.6" fill="#c4c2c8"/>
<text x="445" y="518.9" font-size="7.8" text-anchor="start" fill="#2a2a2a" stroke="#2a2a2a" stroke-width="0.12" textLength="8.4" lengthAdjust="spacingAndGlyphs">no</text>
<rect x="463.8" y="511.2" width="11.1" height="10.6" fill="#a0002a"/>
<text x="478" y="518.9" font-size="7.8" text-anchor="start" fill="#2a2a2a" stroke="#2a2a2a" stroke-width="0.12" textLength="11" lengthAdjust="spacingAndGlyphs">yes</text>
</svg></div></body></html>
